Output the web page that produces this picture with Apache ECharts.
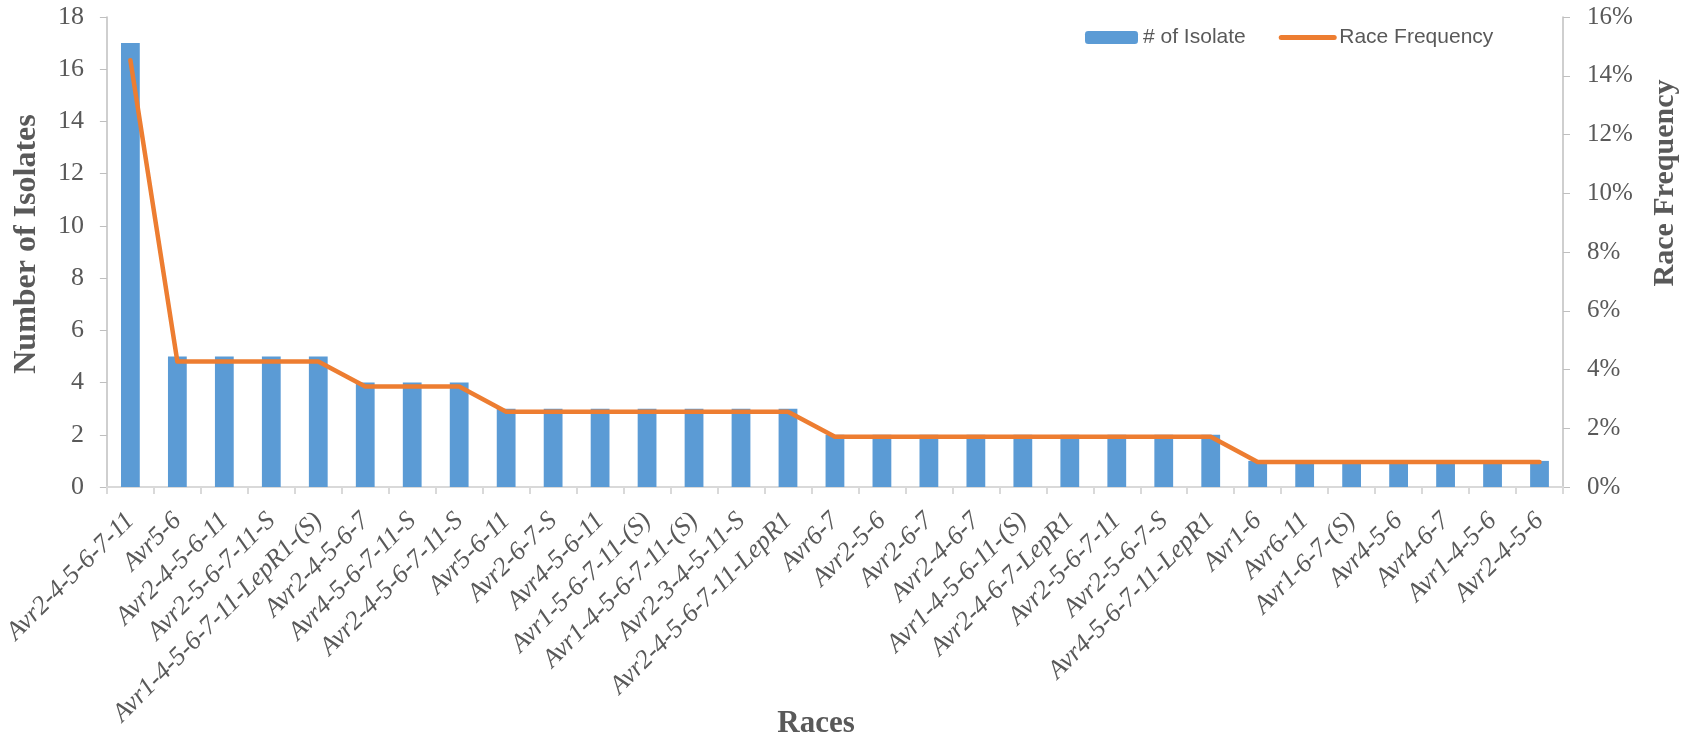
<!DOCTYPE html>
<html>
<head>
<meta charset="utf-8">
<title>Races</title>
<script src="https://cdn.jsdelivr.net/npm/echarts@6/dist/echarts.min.js"></script>
<style>
  html, body { margin: 0; padding: 0; background: #fff; }
  #main { width: 1692px; height: 741px; }
</style>
</head>
<body>
<div id="main"></div>
<script>
// race names along the x axis
var races = [
    'Avr2-4-5-6-7-11', 'Avr5-6', 'Avr2-4-5-6-11', 'Avr2-5-6-7-11-S',
    'Avr1-4-5-6-7-11-LepR1-(S)', 'Avr2-4-5-6-7', 'Avr4-5-6-7-11-S', 'Avr2-4-5-6-7-11-S',
    'Avr5-6-11', 'Avr2-6-7-S', 'Avr4-5-6-11', 'Avr1-5-6-7-11-(S)',
    'Avr1-4-5-6-7-11-(S)', 'Avr2-3-4-5-11-S', 'Avr2-4-5-6-7-11-LepR1', 'Avr6-7',
    'Avr2-5-6', 'Avr2-6-7', 'Avr2-4-6-7', 'Avr1-4-5-6-11-(S)',
    'Avr2-4-6-7-LepR1', 'Avr2-5-6-7-11', 'Avr2-5-6-7-S', 'Avr4-5-6-7-11-LepR1',
    'Avr1-6', 'Avr6-11', 'Avr1-6-7-(S)', 'Avr4-5-6', 'Avr4-6-7', 'Avr1-4-5-6', 'Avr2-4-5-6'
];

// # of isolates per race
var isolates = [17, 5, 5, 5, 5, 4, 4, 4, 3, 3, 3, 3, 3, 3, 3,
    2, 2, 2, 2, 2, 2, 2, 2, 2, 1, 1, 1, 1, 1, 1, 1];

// race frequency, in percent
var frequency = [14.53, 4.27, 4.27, 4.27, 4.27, 3.42, 3.42, 3.42,
    2.56, 2.56, 2.56, 2.56, 2.56, 2.56, 2.56,
    1.71, 1.71, 1.71, 1.71, 1.71, 1.71, 1.71, 1.71, 1.71,
    0.85, 0.85, 0.85, 0.85, 0.85, 0.85, 0.85];

var seriesNames = ['# of Isolate', 'Race Frequency'];

var textColor = '#595959';
var serif = '"Liberation Serif", "Times New Roman", serif';

function initOption(){
    var option = {
        animation: false,
        backgroundColor: '#fff',
        legend: {
            data: [
                { name: seriesNames[0] },
                // line only, no marker
                { name: seriesNames[1], itemStyle: { color: 'rgba(0,0,0,0)', opacity: 0, borderWidth: 0 } }
            ],
            left: 1080,
            top: 22,
            itemWidth: 53,
            itemHeight: 13,
            itemGap: 33,
            lineStyle: { width: 5, cap: 'round' },
            textStyle: {
                color: textColor,
                fontSize: 21,
                fontFamily: '"Liberation Sans", Arial, sans-serif'
            }
        },
        grid: {
            left: 104,
            right: 129,
            top: 17,
            bottom: 254
        },
        xAxis: [{
            type: 'category',
            data: races,
            axisLine: { lineStyle: { color: '#d9d9d9', width: 2 } },
            axisTick: { show: true, length: 7, lineStyle: { color: '#d9d9d9', width: 2 } },
            axisLabel: {
                interval: 0,
                rotate: 45,
                margin: 30,
                color: textColor,
                fontSize: 26,
                fontStyle: 'italic',
                fontFamily: serif
            }
        }],
        yAxis: [{
            type: 'value',
            min: 0,
            max: 18,
            interval: 2,
            splitLine: { show: false },
            axisLine: { show: true, lineStyle: { color: '#bfbfbf', width: 1.5 } },
            axisTick: { show: true, length: 7, lineStyle: { color: '#bfbfbf' } },
            axisLabel: { color: textColor, fontSize: 26, fontFamily: serif, margin: 23 }
        }, {
            type: 'value',
            min: 0,
            max: 16,
            interval: 2,
            splitLine: { show: false },
            axisLine: { show: true, lineStyle: { color: '#bfbfbf', width: 1.5 } },
            axisTick: { show: true, length: 7, lineStyle: { color: '#bfbfbf' } },
            axisLabel: { color: textColor, fontSize: 25, fontFamily: serif, margin: 24, formatter: '{value}%' }
        }],
        graphic: [{
            type: 'text',
            x: 27, y: 244,
            rotation: Math.PI / 2,
            style: {
                text: 'Number of Isolates',
                fill: textColor,
                font: 'bold 32px ' + serif,
                textAlign: 'center',
                textVerticalAlign: 'middle'
            }
        }, {
            type: 'text',
            x: 1665, y: 183,
            rotation: Math.PI / 2,
            style: {
                text: 'Race Frequency',
                fill: textColor,
                font: 'bold 30px ' + serif,
                textAlign: 'center',
                textVerticalAlign: 'middle'
            }
        }, {
            type: 'text',
            x: 816, y: 724,
            style: {
                text: 'Races',
                fill: textColor,
                font: 'bold 31px ' + serif,
                textAlign: 'center',
                textVerticalAlign: 'middle'
            }
        }],
        series: [{
            name: seriesNames[0],
            type: 'bar',
            barWidth: '40%',
            yAxisIndex: 0,
            itemStyle: { color: '#5b9bd5' },
            data: isolates
        }, {
            name: seriesNames[1],
            type: 'line',
            yAxisIndex: 1,
            symbol: 'none',
            lineStyle: { color: '#ed7d31', width: 4.5, cap: 'round', join: 'round' },
            itemStyle: { color: '#ed7d31' },
            data: frequency
        }]
    };
    return option;
}

var myChart = echarts.init(document.getElementById('main'));
myChart.setOption(initOption());
</script>
</body>
</html>
